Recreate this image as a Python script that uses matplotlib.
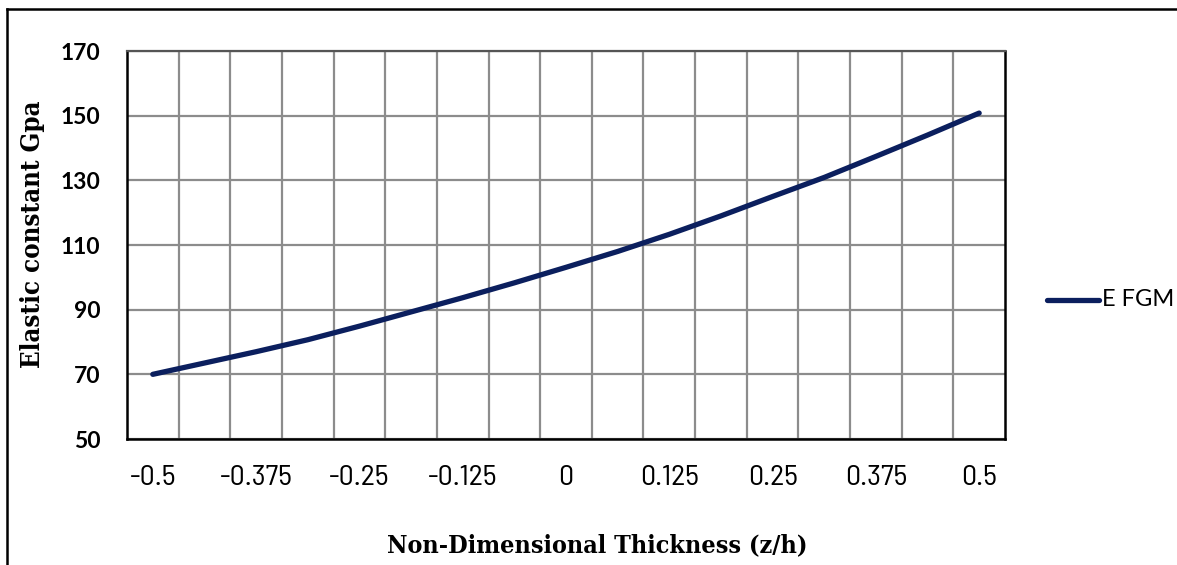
import numpy as np
import matplotlib.pyplot as plt
from matplotlib.lines import Line2D

# dados
z = [-0.5, -0.4375, -0.375, -0.3125, -0.25, -0.1875, -0.125, -0.0625, 0.0,
     0.0625, 0.125, 0.1875, 0.25, 0.3125, 0.375, 0.4375, 0.5]
E_fgm = [70.0, 73.5, 77.0, 80.7, 84.9, 89.3, 93.7, 98.3, 103.1,
         108.0, 113.3, 119.0, 125.0, 130.9, 137.4, 144.0, 150.8]
xtick_vals = [-0.5, -0.375, -0.25, -0.125, 0.0, 0.125, 0.25, 0.375, 0.5]
xtick_labels = ['-0.5', '-0.375', '-0.25', '-0.125', '0', '0.125', '0.25', '0.375', '0.5']
yticks = [50, 70, 90, 110, 130, 150, 170]

W, H = 1177, 565
fig = plt.figure(figsize=(W / 100, H / 100), dpi=100)
ax = fig.add_axes([127 / W, (H - 439) / H, 878 / W, 388 / H])

ax.plot(z, E_fgm, color='#0b1f5e', lw=3.8, solid_capstyle='round', zorder=3)

half = 0.03125
ax.set_xlim(z[0] - half, z[-1] + half)
ax.set_ylim(50, 170)
ax.set_yticks(yticks)
ax.set_xticks(xtick_vals)
ax.set_xticklabels(xtick_labels, family=['Barlow Semi Condensed', 'DejaVu Sans'], fontsize=21.5)
ax.set_xticks(np.array(z[:-1]) + half, minor=True)
ax.tick_params(axis='both', which='both', length=0)
ax.tick_params(axis='x', pad=19)
ax.tick_params(axis='y', pad=19)
for lab in ax.get_yticklabels():
    lab.set_family(['Lato', 'DejaVu Sans'])
    lab.set_fontweight('bold')
    lab.set_fontsize(16.5)

ax.grid(which='minor', axis='x', color='#8c8c8c', lw=1.6)
ax.grid(which='major', axis='y', color='#8c8c8c', lw=1.6)
ax.set_axisbelow(True)

for s in ['left', 'bottom', 'right']:
    ax.spines[s].set_color('black')
    ax.spines[s].set_linewidth(1.8)
ax.spines['top'].set_color('#555555')
ax.spines['top'].set_linewidth(1.6)

fig.text(597 / W, 1 - 545 / H, 'Non-Dimensional Thickness (z/h)', ha='center', va='center',
         family=['DejaVu Serif'], fontstretch='condensed', fontweight='bold', fontsize=18)
fig.text(33 / W, 1 - 234 / H, 'Elastic constant Gpa', ha='center', va='center', rotation=90,
         family=['DejaVu Serif'], fontstretch='condensed', fontweight='bold', fontsize=18.5)

# legenda
fig.add_artist(Line2D([1047 / W, 1099 / W], [1 - 300 / H, 1 - 300 / H], color='#0b1f5e',
                      lw=3.8, solid_capstyle='round'))
fig.text(1102 / W, 1 - 300 / H, 'E FGM', ha='left', va='center',
         family=['Lato', 'DejaVu Sans'], fontsize=17)

# moldura externa
fig.add_artist(Line2D([7 / W, 7 / W], [0, 1 - 9 / H], color='black', lw=1.8))
fig.add_artist(Line2D([7 / W, 1], [1 - 9 / H, 1 - 9 / H], color='black', lw=1.8))

fig.savefig('out.png', dpi=100)
